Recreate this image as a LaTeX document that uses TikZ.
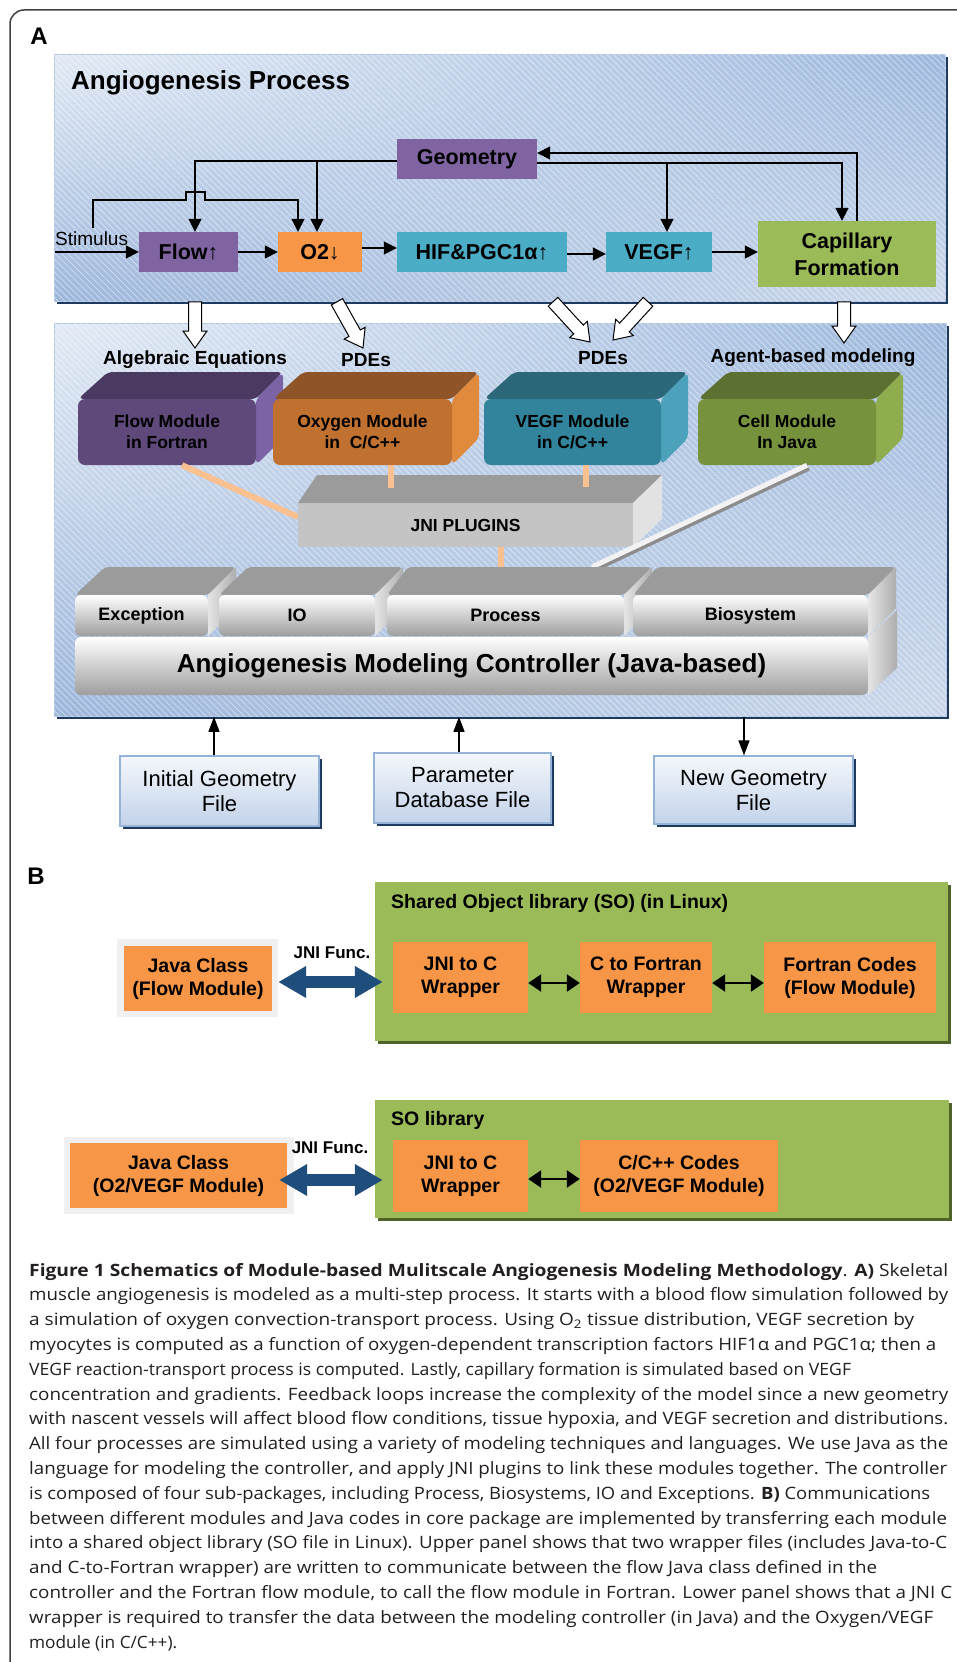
\documentclass[tikz,border=0pt]{standalone}
\usepackage{fontspec}
\setmainfont{Liberation Sans}
\newfontfamily\capfont{Open Sans}
\usepackage{graphicx}
\usetikzlibrary{arrows.meta,calc,patterns.meta,shadings}

\definecolor{cPurp}{HTML}{8064A2}
\definecolor{cOrng}{HTML}{F79646}
\definecolor{cTeal}{HTML}{4BACC6}
\definecolor{cGrn}{HTML}{9BBB59}
\definecolor{cNavy}{HTML}{1F3A5F}
\definecolor{cOlive}{HTML}{4F6228}
\definecolor{cPanBd}{HTML}{B4C8E4}
\definecolor{cPa}{HTML}{E2EAF5}
\definecolor{cPb}{HTML}{9DB8DD}
\definecolor{cPc}{HTML}{9CB6DB}
\definecolor{cPd}{HTML}{CBD8EB}
\definecolor{cFlowF}{HTML}{5F497A}
\definecolor{cFlowT}{HTML}{4A3A62}
\definecolor{cFlowS}{HTML}{7B63A6}
\definecolor{cOxF}{HTML}{C0712F}
\definecolor{cOxT}{HTML}{8F5528}
\definecolor{cOxS}{HTML}{DF8A3D}
\definecolor{cVgF}{HTML}{31849B}
\definecolor{cVgT}{HTML}{2B6679}
\definecolor{cVgS}{HTML}{4DA2BB}
\definecolor{cCeF}{HTML}{76923C}
\definecolor{cCeT}{HTML}{5C7131}
\definecolor{cCeS}{HTML}{8DAD4E}
\definecolor{cJF}{HTML}{C4C4C4}
\definecolor{cJT}{HTML}{9B9B9B}
\definecolor{cJS}{HTML}{E2E2E2}
\definecolor{cConn}{HTML}{FAC08F}
\definecolor{cBlue}{HTML}{1F4E7D}
\definecolor{cFrame}{HTML}{F0F0F0}
\definecolor{cFileB}{HTML}{95B3D7}
\definecolor{cFileT}{HTML}{F4F7FB}
\definecolor{cFileBt}{HTML}{C3D3EA}
\definecolor{cCap}{HTML}{231F20}

\tikzset{
  panel/.style={inner sep=0pt, anchor=north west, draw=cPanBd, line width=0.8pt,
    upper left=cPa, upper right=cPb, lower left=cPc, lower right=cPd,
    preaction={fill=cNavy, transform canvas={xshift=3pt,yshift=-3pt}}},
  gpanel/.style={inner sep=0pt, anchor=north west, fill=cGrn,
    preaction={fill=cOlive, transform canvas={xshift=3pt,yshift=-3pt}}},
  hatch/.style={pattern={Lines[angle=-45,distance=4.5pt,line width=0.7pt]}, pattern color=white, opacity=0.5},
  pbox/.style={rectangle, inner sep=0pt, align=center, font=\bfseries\fontsize{21.5}{27}\selectfont},
  arr/.style={line width=1.6pt, -{Triangle[length=13pt,width=13pt]}},
  farr/.style={line width=1.3pt, -{Triangle[length=15pt,width=11pt]}},
  lbl/.style={inner sep=0pt, font=\bfseries\fontsize{19}{22}\selectfont},
  modf/.style={rounded corners=7pt, inner sep=0pt, align=center, font=\bfseries\fontsize{17.5}{21}\selectfont},
  pkgf/.style={rounded corners=6pt, inner sep=0pt, top color=white, bottom color=black!38, minimum height=41pt, font=\bfseries\fontsize{18}{22}\selectfont},
  conn/.style={line width=6pt, color=cConn},
  filebox/.style={draw=cFileB, line width=1.2pt, top color=cFileT, bottom color=cFileBt, inner sep=0pt, align=center, font=\fontsize{22}{25}\selectfont,
    preaction={fill=cNavy, transform canvas={xshift=3pt,yshift=-3pt}}},
  obox/.style={fill=cOrng, inner sep=0pt, align=center, font=\bfseries\fontsize{19.5}{23}\selectfont},
  frm/.style={fill=cFrame, inner sep=0pt},
  barr/.style={line width=12pt, color=cBlue, {Triangle[length=28pt,width=30pt]}-{Triangle[length=28pt,width=30pt]}},
  sarr/.style={line width=2.5pt, {Triangle[length=13pt,width=17pt]}-{Triangle[length=13pt,width=17pt]}},
}

\newcommand\hollowarr[2]{%
  \coordinate (hN) at ($(#2)!17pt!(#1)$);
  \draw[line width=1pt, fill=white, line join=miter]
   ($(#1)!6.5pt!90:(#2)$) -- ($(hN)!6.5pt!90:(#2)$) -- ($(hN)!12pt!90:(#2)$) -- (#2)
   -- ($(hN)!12pt!-90:(#2)$) -- ($(hN)!6.5pt!-90:(#2)$) -- ($(#1)!6.5pt!-90:(#2)$) -- cycle;}

\newcommand\modbox[9]{%
  \fill[#7, rounded corners=5pt] (#2,#3) -- (#2+30,#3-27) -- (#4+27,#3-27) -- (#4,#3) -- cycle;
  \fill[#8, rounded corners=5pt] (#4,#3) -- (#4+27,#3-27) -- (#4+27,#5-27) -- (#4,#5) -- cycle;
  \node[modf, fill=#6, minimum width={#4-#2}, minimum height={#5-#3}] (#1) at ({(#2+#4)/2},{(#3+#5)/2}) {#9};}

\newcommand\pkgbox[5]{%
  \fill[cJT, rounded corners=4pt] (#2,595) -- (#2+#4,567) -- (#3+28,567) -- (#3,595) -- cycle;
  \shade[left color=black!10, right color=black!32] (#3,595) -- (#3+28,567) -- (#3+28,608) -- (#3,636) -- cycle;
  \node[pkgf, minimum width={#3-#2}] (#1) at ({(#2+#3)/2},615.5) {#5};}

\newcommand\capln[4]{\node[anchor=base west, inner sep=0pt, text=cCap] (#1) at (29,#2) {\resizebox{#3pt}{\height}{\capfont\fontsize{17}{20}\selectfont #4}};}

\begin{document}
\begin{tikzpicture}[x=1pt,y=-1pt]
\useasboundingbox (0,0) rectangle (957,1662);
\fill[white] (0,0) rectangle (957,1662);

% outer frame
\draw[line width=1.5pt, color=black!75, rounded corners=14pt] (10,1662) -- (10,10) -- (957,10);

% panel labels
\node[font=\bfseries\fontsize{24}{28}\selectfont, inner sep=0pt] (labA) at (39,36) {A};
\node[font=\bfseries\fontsize{24}{28}\selectfont, inner sep=0pt] (labB) at (36,876) {B};

% ===== Top panel =====
\node[panel, minimum width=891pt, minimum height=247pt] (P1) at (54,54) {};
\fill[hatch] (P1.north west) rectangle (P1.south east);
\node[anchor=base west, inner sep=0pt, font=\bfseries\fontsize{26}{30}\selectfont] (ttl) at (71,89) {Angiogenesis Process};

\node[pbox, fill=cPurp, minimum width=140pt, minimum height=40pt] (Geo) at (467,159) {Geometry};
\node[pbox, fill=cPurp, minimum width=99pt, minimum height=40pt] (Flow) at (188.5,252) {Flow↑};
\node[pbox, fill=cOrng, minimum width=84pt, minimum height=40pt] (O2) at (320,252) {O2↓};
\node[pbox, fill=cTeal, minimum width=170pt, minimum height=40pt] (HIF) at (482,252) {HIF\&PGC1α↑};
\node[pbox, fill=cTeal, minimum width=106pt, minimum height=40pt] (VEGF) at (659,252) {VEGF↑};
\node[pbox, fill=cGrn, minimum width=178pt, minimum height=66pt] (Cap) at (847,254) {Capillary\\Formation};

\node[anchor=base west, inner sep=0pt, font=\fontsize{19}{22}\selectfont] (stim) at (55,245) {Stimulus};
\coordinate (stimin) at (55,252);
\coordinate (stimtop) at (93,228);
\draw[arr] (stimin) -- (Flow.west);
\draw[arr] (stimtop) -- (93,200) -- (186,200) -- (186,192) -- (205,192) -- (205,200) -| (298,0 |- O2.north);
\draw[arr] (Geo.west |- 0,161) -| (195,0 |- Flow.north);
\coordinate (jO2) at (317,161);
\draw[arr] (jO2) -- (317,0 |- O2.north);
\draw[arr] (Geo.east |- 0,163) -| (842,0 |- Cap.north);
\coordinate (jVg) at (667,163);
\draw[arr] (jVg) -- (667,0 |- VEGF.north);
\draw[arr] (857,0 |- Cap.north) |- (Geo.east |- 0,153);
\draw[arr] (Flow.east) -- (O2.west);
\draw[arr] (O2.east |- 0,248) -- (HIF.west |- 0,248);
\draw[arr] (HIF.east |- 0,254) -- (VEGF.west |- 0,254);
\draw[arr] (VEGF.east) -- (VEGF.east -| Cap.west);

% ===== Lower panel =====
\node[panel, minimum width=892pt, minimum height=393pt] (P2) at (54,323) {};
\fill[hatch] (P2.north west) rectangle (P2.south east);

% hollow block arrows
\coordinate (a1s) at (195,0 |- P1.south); \coordinate (a1t) at (195,348);
\coordinate (a2s) at (337,0 |- P1.south); \coordinate (a2t) at (363,348);
\coordinate (a3s) at (553,0 |- P1.south); \coordinate (a3t) at (590,342);
\coordinate (a4s) at (648,0 |- P1.south); \coordinate (a4t) at (613,340);
\coordinate (a5s) at (844,0 |- P1.south); \coordinate (a5t) at (844,343);
\hollowarr{a1s}{a1t}
\hollowarr{a2s}{a2t}
\hollowarr{a3s}{a3t}
\hollowarr{a4s}{a4t}
\hollowarr{a5s}{a5t}

\node[lbl] (lAlg) at (195,360) {Algebraic Equations};
\node[lbl] (lPde1) at (366,360) {PDEs};
\node[lbl] (lPde2) at (603,358) {PDEs};
\node[lbl] (lAgt) at (813,358) {Agent-based modeling};

% modules
\modbox{mFlow}{78}{399}{256}{465}{cFlowF}{cFlowT}{cFlowS}{Flow Module\\in Fortran}
\modbox{mOx}{273}{399}{452}{465}{cOxF}{cOxT}{cOxS}{Oxygen Module\\in~ C/C++}
\modbox{mVg}{484}{399}{661}{465}{cVgF}{cVgT}{cVgS}{VEGF Module\\in C/C++}
\modbox{mCe}{698}{399}{876}{465}{cCeF}{cCeT}{cCeS}{Cell Module\\In Java}

% JNI plugins box
\fill[cJT] (298,503) -- (317,475) -- (662,475) -- (633,503) -- cycle;
\fill[cJS] (633,503) -- (662,475) -- (662,519) -- (633,547) -- cycle;
\node[fill=cJF, inner sep=0pt, minimum width=335pt, minimum height=44pt, font=\bfseries\fontsize{17.5}{21}\selectfont] (JNI) at (465.5,525) {JNI PLUGINS};

% Cell -> controller band
\coordinate (ceA) at (807,0 |- mCe.south);
\coordinate (ceB) at (592,567);
\draw[line width=6pt, color=black!45] ($(ceA)+(1.5,2.5)$) -- ($(ceB)+(1.5,2.5)$);
\draw[line width=5pt, color=black!5] (ceA) -- (ceB);

% sub-packages
\pkgbox{pExc}{75}{208}{30}{Exception}
\pkgbox{pIO}{219}{375}{29}{IO}
\pkgbox{pProc}{387}{624}{21}{Process}
\pkgbox{pBio}{633}{868}{24}{Biosystem}

% controller
\shade[left color=black!10, right color=black!32] (868,637) -- (897,610) -- (897,668) -- (868,695) -- cycle;
\node[pkgf, minimum width=793pt, minimum height=58pt, font=\bfseries\fontsize{26}{30}\selectfont] (Ctrl) at (471.5,666) {Angiogenesis Modeling Controller (Java-based)};

% orange connectors
\coordinate (cOxE) at (391,488);
\coordinate (cVgE) at (586,487);
\draw[conn] (182,0 |- mFlow.south) -- (JNI.west |- 0,517);
\draw[conn] (391,0 |- mOx.south) -- (cOxE);
\draw[conn] (586,0 |- mVg.south) -- (cVgE);
\draw[conn] (501,0 |- JNI.south) -- (501,567);

% files
\node[filebox, minimum width=199pt, minimum height=70pt] (IG) at (219.5,791) {Initial Geometry\\File};
\node[filebox, minimum width=177pt, minimum height=70pt] (PD) at (462.5,788) {Parameter\\Database File};
\node[filebox, minimum width=199pt, minimum height=68pt] (NG) at (753.5,790) {New Geometry\\File};
\draw[farr] ($(IG.north)+(-5.5,0)$) -- ($(IG.north |- P2.south)+(-5.5,0)$);
\draw[farr] ($(PD.north)+(-3.5,0)$) -- ($(PD.north |- P2.south)+(-3.5,0)$);
\draw[farr] ($(NG.north |- P2.south)+(-9.5,0)$) -- ($(NG.north)+(-9.5,0)$);

% ===== Section B upper =====
\node[gpanel, minimum width=573pt, minimum height=159pt] (G1) at (375,882) {};
\node[anchor=west, inner sep=0pt, font=\bfseries\fontsize{19.5}{23}\selectfont] (G1t) at (391,903) {Shared Object library (SO) (in Linux)};
\node[frm, minimum width=161pt, minimum height=78pt] (JCf1) at (197.5,978) {};
\node[obox, minimum width=148pt, minimum height=65pt] (JC1) at (198,978.5) {Java Class\\(Flow Module)};
\node[obox, minimum width=135pt, minimum height=71pt] (JW1) at (460.5,977.5) {JNI to C\\Wrapper};
\node[obox, minimum width=132pt, minimum height=71pt] (CF1) at (646,977.5) {C to Fortran\\Wrapper};
\node[obox, minimum width=172pt, minimum height=71pt] (FC1) at (850,977.5) {Fortran Codes\\(Flow Module)};
\node[inner sep=0pt, font=\bfseries\fontsize{17}{20}\selectfont] (jf1) at (332,953) {JNI Func.};
\draw[barr] (JCf1.east |- 0,982) -- ($(JW1.west |- 0,982)+(-10,0)$);
\draw[sarr] (JW1.east |- 0,983) -- (CF1.west |- 0,983);
\draw[sarr] (CF1.east |- 0,983) -- (FC1.west |- 0,983);

% ===== Section B lower =====
\node[gpanel, minimum width=574pt, minimum height=118pt] (G2) at (375,1100) {};
\node[anchor=west, inner sep=0pt, font=\bfseries\fontsize{19.5}{23}\selectfont] (G2t) at (391,1120) {SO library};
\node[frm, minimum width=230pt, minimum height=77pt] (JCf2) at (179,1175.5) {};
\node[obox, minimum width=217pt, minimum height=65pt] (JC2) at (178.5,1175.5) {Java Class\\(O2/VEGF Module)};
\node[obox, minimum width=135pt, minimum height=72pt] (JW2) at (460.5,1176) {JNI to C\\Wrapper};
\node[obox, minimum width=198pt, minimum height=72pt] (CC2) at (679,1176) {C/C++ Codes\\(O2/VEGF Module)};
\node[inner sep=0pt, font=\bfseries\fontsize{17}{20}\selectfont] (jf2) at (330,1148) {JNI Func.};
\draw[barr] ($(JCf2.east |- 0,1180)+(-15,0)$) -- ($(JW2.west |- 0,1180)+(-10,0)$);
\draw[sarr] (JW2.east |- 0,1179) -- (CC2.west |- 0,1179);

% ===== Caption =====
\capln{c1}{1276}{919}{{\bfseries Figure 1 Schematics of Module-based Mulitscale Angiogenesis Modeling Methodology}. {\bfseries A)} Skeletal}
\capln{c2}{1300.8}{919}{muscle angiogenesis is modeled as a multi-step process. It starts with a blood flow simulation followed by}
\capln{c3}{1325.6}{885}{a simulation of oxygen convection-transport process. Using O\textsubscript{2} tissue distribution, VEGF secretion by}
\capln{c4}{1350.4}{907}{myocytes is computed as a function of oxygen-dependent transcription factors HIF1α and PGC1α; then a}
\capln{c5}{1375.2}{822}{VEGF reaction-transport process is computed. Lastly, capillary formation is simulated based on VEGF}
\capln{c6}{1400}{919}{concentration and gradients. Feedback loops increase the complexity of the model since a new geometry}
\capln{c7}{1424.8}{919}{with nascent vessels will affect blood flow conditions, tissue hypoxia, and VEGF secretion and distributions.}
\capln{c8}{1449.6}{919}{All four processes are simulated using a variety of modeling techniques and languages. We use Java as the}
\capln{c9}{1474.4}{918}{language for modeling the controller, and apply JNI plugins to link these modules together. The controller}
\capln{c10}{1499.2}{901}{is composed of four sub-packages, including Process, Biosystems, IO and Exceptions. {\bfseries B)} Communications}
\capln{c11}{1524}{918}{between different modules and Java codes in core package are implemented by transferring each module}
\capln{c12}{1548.8}{918}{into a shared object library (SO file in Linux). Upper panel shows that two wrapper files (includes Java-to-C}
\capln{c13}{1573.6}{848}{and C-to-Fortran wrapper) are written to communicate between the flow Java class defined in the}
\capln{c14}{1598.4}{923}{controller and the Fortran flow module, to call the flow module in Fortran. Lower panel shows that a JNI C}
\capln{c15}{1623.2}{904}{wrapper is required to transfer the data between the modeling controller (in Java) and the Oxygen/VEGF}
\capln{c16}{1648}{148}{module (in C/C++).}
\end{tikzpicture}
\end{document}
